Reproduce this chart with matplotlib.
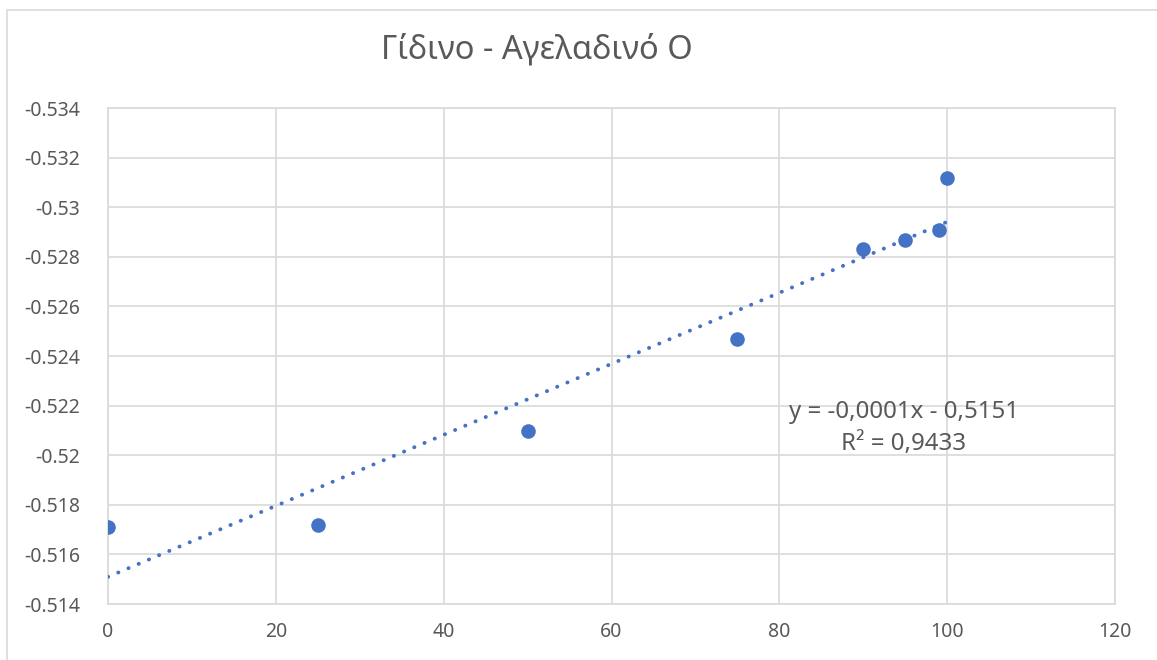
import numpy as np
import matplotlib
matplotlib.use("Agg")
import matplotlib.pyplot as plt
from matplotlib.patches import Rectangle

plt.rcParams['font.family'] = ['Noto Sans', 'DejaVu Sans']

# Measurements
x_vals = [0, 25, 50, 75, 90, 95, 99, 100]
y_vals = [-0.51710, -0.51719, -0.52098, -0.52469, -0.52831, -0.52868, -0.52908, -0.53118]

x_ticks = [0, 20, 40, 60, 80, 100, 120]
y_ticks = [-0.514, -0.516, -0.518, -0.520, -0.522, -0.524, -0.526, -0.528, -0.530, -0.532, -0.534]
y_tick_labels = ["-0.514", "-0.516", "-0.518", "-0.52", "-0.522", "-0.524",
                 "-0.526", "-0.528", "-0.53", "-0.532", "-0.534"]

title = "Γίδινο - Αγελαδινό Ο"
eq_line = "y = -0,0001x - 0,5151"
r2_line = "R² = 0,9433"

blue = "#4472C4"
grid_c = "#d9d9d9"
text_c = "#595959"

fig = plt.figure(figsize=(11.57, 6.6), dpi=100)
ax = fig.add_axes([108 / 1157, 1 - 604 / 660, (1115 - 108) / 1157, (604 - 108) / 660])

# chart frame
fig.patches.append(Rectangle((7 / 1157, -0.1), 1.2, 1 - 10 / 660 + 0.1,
                             transform=fig.transFigure, fill=False,
                             edgecolor=grid_c, linewidth=1.2, zorder=0))

# linear trendline
slope, intercept = np.polyfit(x_vals, y_vals, 1)
xt = np.array([min(x_vals), max(x_vals)])
ax.plot(xt, slope * xt + intercept, linestyle=(0, (0.05, 2.8)), dash_capstyle='round',
        color=blue, linewidth=2.8, zorder=3)

ax.scatter(x_vals, y_vals, s=110, color=blue, zorder=4, linewidths=0)

ax.set_xlim(0, 120)
ax.set_ylim(-0.514, -0.534)
ax.set_xticks(x_ticks)
ax.set_xticklabels([str(v) for v in x_ticks])
ax.set_yticks(y_ticks)
ax.set_yticklabels(y_tick_labels)
ax.grid(True, color=grid_c, linewidth=1.2)
ax.set_axisbelow(True)
for s in ax.spines.values():
    s.set_color(grid_c)
    s.set_linewidth(1.2)
ax.tick_params(length=0, labelsize=14, colors=text_c, pad=13)
ax.tick_params(axis='y', pad=20)

ax.text(0.790, (604 - 412) / 496, eq_line, transform=ax.transAxes, ha='center',
        va='center', fontsize=17.3, color=text_c)
ax.text(0.790, (604 - 444) / 496, r2_line, transform=ax.transAxes, ha='center',
        va='center', fontsize=17.3, color=text_c)

fig.text(537 / 1157, 1 - 50 / 660, title, ha='center', va='center',
         fontsize=23.5, color=text_c)

fig.savefig("out.png", dpi=100)
